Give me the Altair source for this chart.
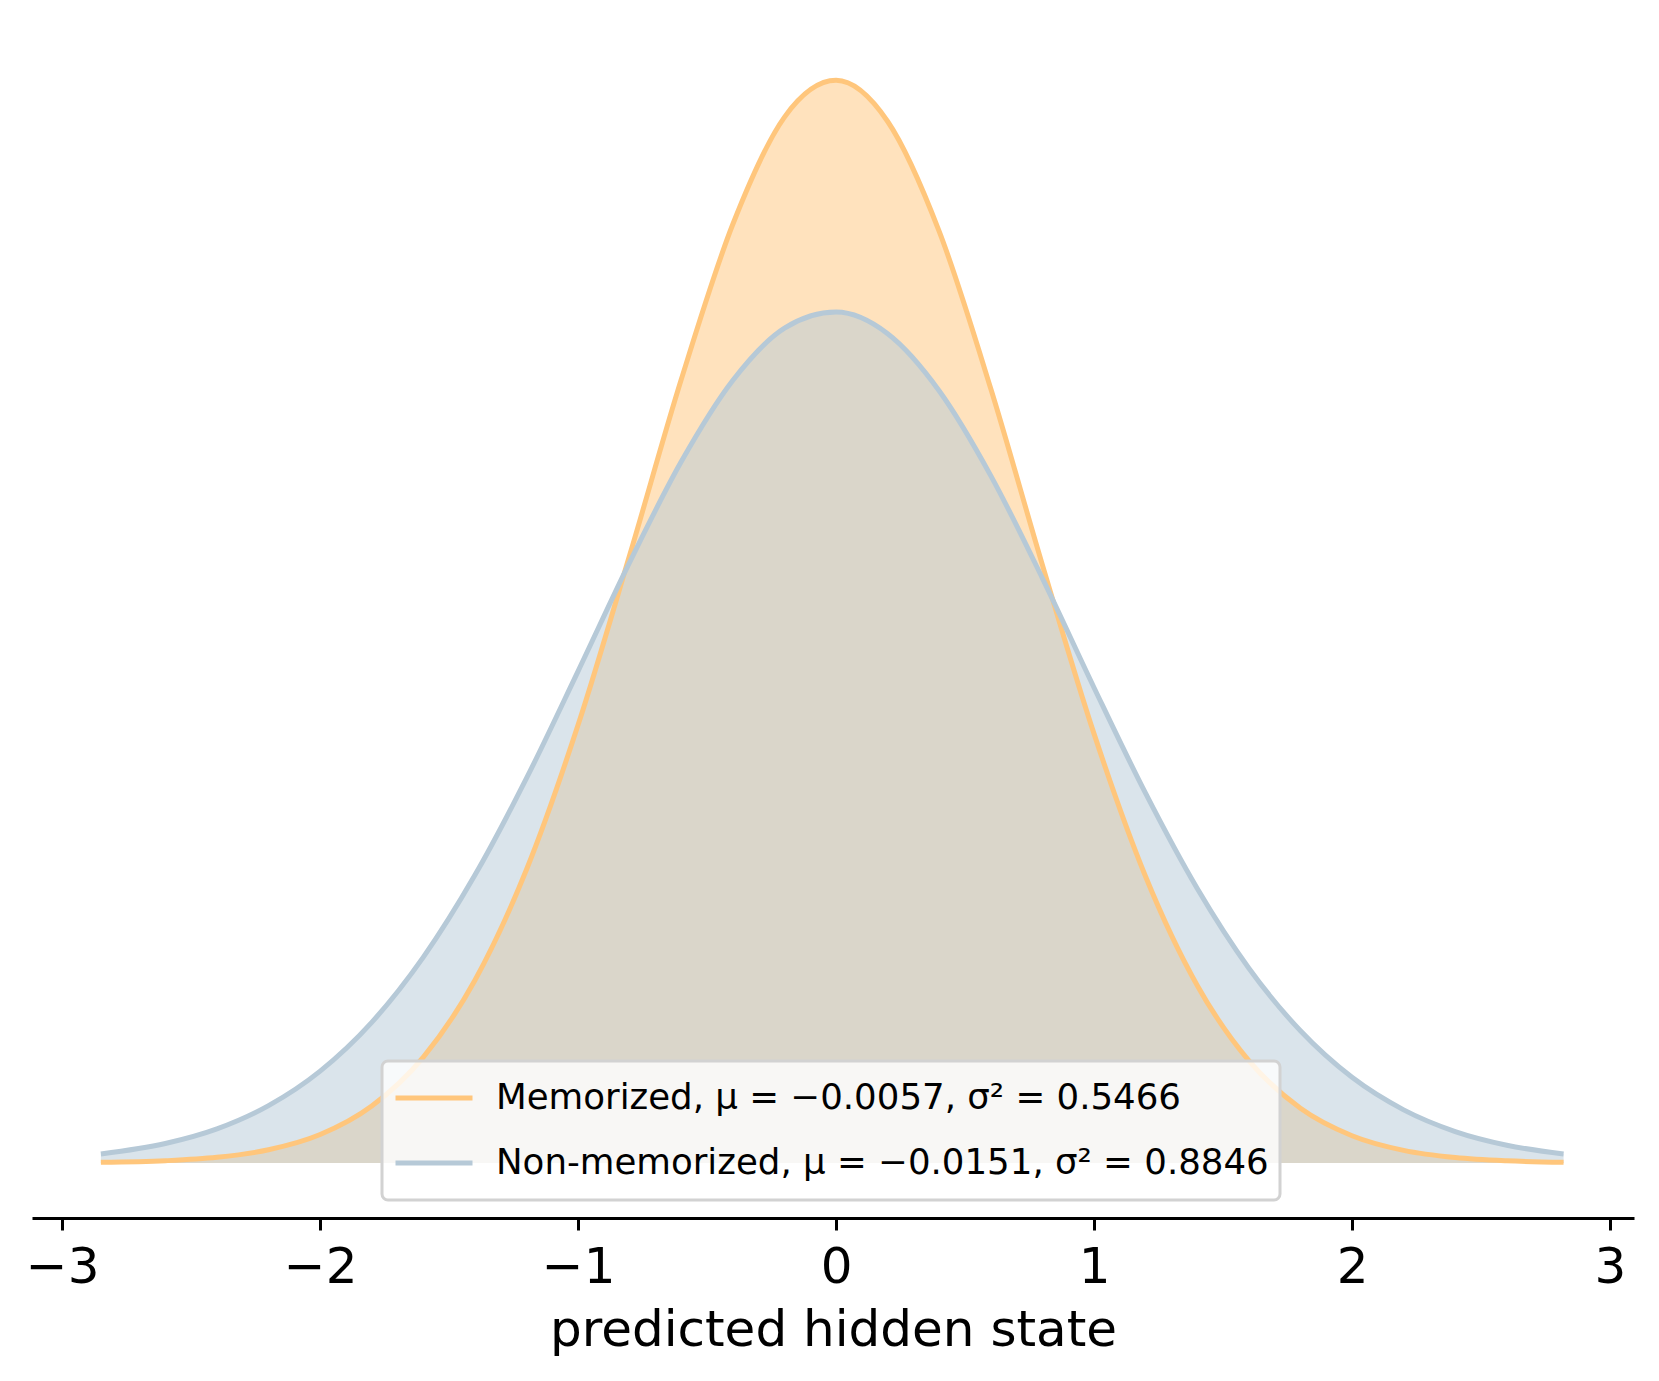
import altair as alt
import pandas as pd

# x positions (predicted hidden state) and density heights
xs = [-2.85, -2.6, -2.4, -2.2, -2.0, -1.8, -1.6, -1.4, -1.2, -1.0, -0.8, -0.6, -0.4, -0.2,
      0.0, 0.2, 0.4, 0.6, 0.8, 1.0, 1.2, 1.4, 1.6, 1.8, 2.0, 2.2, 2.4, 2.6, 2.82]
memorized = [0.00033, 0.00114, 0.00285, 0.00660, 0.01419, 0.0284, 0.0528, 0.0911, 0.1463,
             0.2184, 0.3030, 0.3906, 0.4680, 0.5213, 0.5396, 0.5191, 0.4642, 0.3858, 0.2980,
             0.2139, 0.1427, 0.0885, 0.0510, 0.0273, 0.01362, 0.00630, 0.00271, 0.00108, 0.00036]
non_memorized = [0.00451, 0.00971, 0.0170, 0.0286, 0.0458, 0.0701, 0.1026, 0.1435, 0.1918,
                 0.2452, 0.2995, 0.3496, 0.3901, 0.4161, 0.4241, 0.4133, 0.3848, 0.3425, 0.2914,
                 0.2369, 0.1842, 0.1368, 0.0971, 0.0659, 0.0427, 0.0265, 0.0157, 0.00889, 0.00451]

series_names = [
    "Memorized, μ = −0.0057, σ² = 0.5466",
    "Non-memorized, μ = −0.0151, σ² = 0.8846",
]
group_keys = ["mem", "nonmem"]
series_colors = ["#ffc67c", "#b6c9d7"]
x_ticks = [-3, -2, -1, 0, 1, 2, 3]

rows = []
for name, key, vals in zip(series_names, group_keys, [memorized, non_memorized]):
    for x, y in zip(xs, vals):
        rows.append({"x": x, "y": y, "series": name, "group": key})
df = pd.DataFrame(rows)

FONT = "DejaVu Sans"

x_enc = alt.X(
    "x:Q",
    scale=alt.Scale(domain=[-3.117, 3.093], nice=False, zero=False),
    axis=alt.Axis(
        values=x_ticks,
        format="d",
        title="predicted hidden state",
        grid=False,
        domainColor="black",
        domainWidth=3,
        tickColor="black",
        tickWidth=3,
        tickSize=12,
        labelFont=FONT,
        labelFontSize=50,
        labelColor="black",
        labelPadding=12,
        labelFlush=False,
        titleFont=FONT,
        titleFontSize=50,
        titleFontWeight="normal",
        titleColor="black",
        titleBaseline="alphabetic",
        titleY=127,
    ),
)
y_enc = alt.Y(
    "y:Q",
    scale=alt.Scale(domain=[-0.0274, 0.5667], nice=False, zero=False),
    axis=None,
    stack=None,
)

base = alt.Chart(df)

areas = base.mark_area(opacity=0.5, interpolate="monotone").encode(
    x=x_enc,
    y=y_enc,
    fill=alt.Fill("group:N", scale=alt.Scale(domain=group_keys, range=series_colors), legend=None),
)

lines = base.mark_line(strokeWidth=5, interpolate="monotone").encode(
    x=x_enc,
    y=y_enc,
    stroke=alt.Stroke(
        "series:N",
        scale=alt.Scale(domain=series_names, range=series_colors),
        legend=alt.Legend(
            title=None,
            orient="none",
            legendX=350,
            legendY=1035,
            symbolType="stroke",
            symbolSize=5929,
            symbolStrokeWidth=5,
            symbolOpacity=1,
            labelFont=FONT,
            labelFontSize=35.6,
            labelColor="black",
            labelLimit=2000,
            labelOffset=21,
            clipHeight=52,
            rowPadding=13,
            padding=11,
            fillColor="rgba(255,255,255,0.8)",
            strokeColor="#d2d2d2",
        ),
    ),
)

chart = (
    alt.layer(areas, lines)
    .properties(
        width=1602,
        height=1192,
        padding={"left": 24, "top": 18, "right": 17, "bottom": 150},
        autosize=alt.AutoSizeParams(type="none"),
        background="white",
    )
    .configure_view(stroke=None)
    .configure_legend(strokeWidth=3, cornerRadius=6)
)

chart.save("out.html", embed_options={"renderer": "svg", "actions": False})
